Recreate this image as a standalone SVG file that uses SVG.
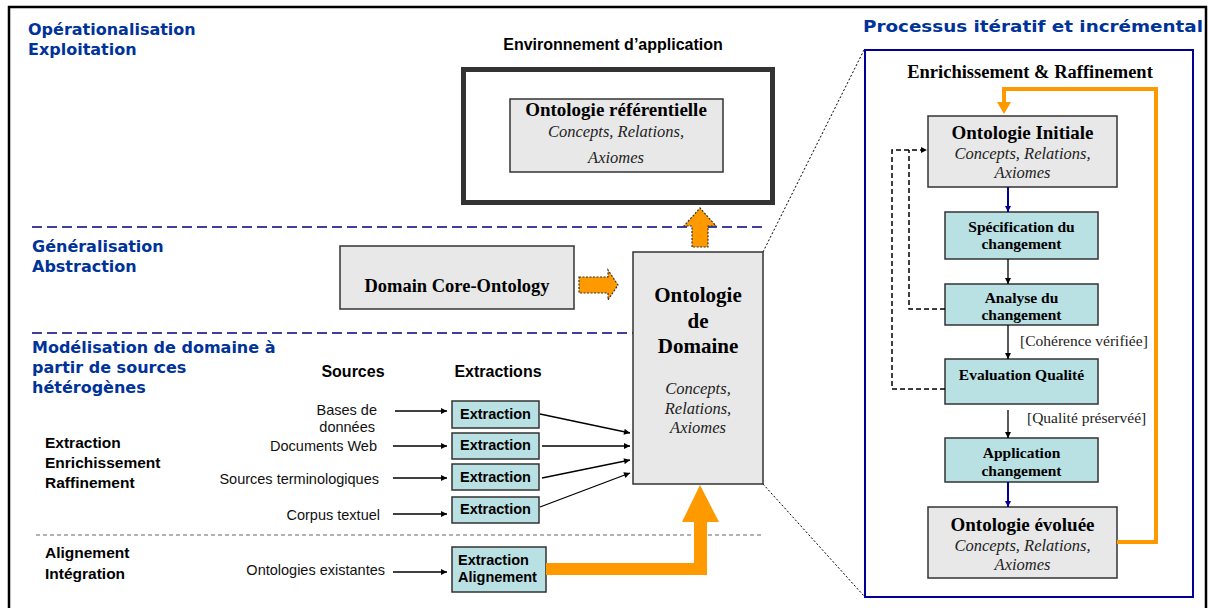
<svg xmlns="http://www.w3.org/2000/svg" width="1208" height="608" viewBox="0 0 1208 608">
<defs>
<style>
.hd{font-family:"DejaVu Sans",Verdana,sans-serif;font-weight:bold;fill:#003399;font-size:16px}
.sb{font-family:"Liberation Sans",Arial,sans-serif;font-weight:bold;fill:#000}
.sr{font-family:"Liberation Sans",Arial,sans-serif;fill:#111;font-size:14.5px}
.tb{font-family:"Liberation Serif","Times New Roman",serif;font-weight:bold;fill:#000}
.ti{font-family:"Liberation Serif","Times New Roman",serif;font-style:italic;fill:#222;font-size:16.5px}
.tr{font-family:"Liberation Serif","Times New Roman",serif;fill:#222;font-size:15.5px}
.gbox{fill:#e8e8e8;stroke:#333;stroke-width:1.5}
.tbox{fill:#b9e0e3;stroke:#333;stroke-width:1.5}
.thin{stroke:#000;stroke-width:1.3;fill:none}
.nav{stroke:#000099;stroke-width:2;fill:none}
.fb{stroke:#000;stroke-width:1.5;fill:none;stroke-dasharray:5,3}
.dot{stroke:#000;stroke-width:1;fill:none;stroke-dasharray:2,2}
.navdash{stroke:#000080;stroke-width:1.5;stroke-dasharray:10,5;fill:none}
.gdash{stroke:#999;stroke-width:1.3;stroke-dasharray:4,3;fill:none}
.org{fill:#ff9900}
.orgd{fill:#ff9900;stroke:#333;stroke-width:1.2;stroke-dasharray:2,1.5}
</style>
<marker id="ah" viewBox="0 0 10 10" refX="10" refY="5" markerWidth="7" markerHeight="6" markerUnits="userSpaceOnUse" orient="auto"><path d="M0,0L10,5L0,10z" fill="#000"/></marker>
<marker id="ahn" viewBox="0 0 10 10" refX="10" refY="5" markerWidth="7" markerHeight="6" markerUnits="userSpaceOnUse" orient="auto"><path d="M0,0L10,5L0,10z" fill="#000099"/></marker>
</defs>
<rect x="0" y="0" width="1208" height="608" fill="#fff"/>
<rect x="9" y="7" width="1197" height="650" fill="none" stroke="#000" stroke-width="2.5"/>

<!-- section labels -->
<g id="labels">
<text class="hd" x="28" y="35">Opérationalisation</text>
<text class="hd" x="28" y="55">Exploitation</text>
<text class="hd" x="32" y="252">Généralisation</text>
<text class="hd" x="32" y="272">Abstraction</text>
<text class="hd" x="32" y="353">Modélisation de domaine à</text>
<text class="hd" x="32" y="373">partir de sources</text>
<text class="hd" x="32" y="393">hétérogènes</text>
<text class="sb" x="45" y="448" font-size="15.5">Extraction</text>
<text class="sb" x="45" y="468" font-size="15.5">Enrichissement</text>
<text class="sb" x="45" y="488" font-size="15.5">Raffinement</text>
<text class="sb" x="45" y="558" font-size="15.5">Alignement</text>
<text class="sb" x="45" y="579" font-size="15.5">Intégration</text>
<text class="sb" x="613" y="50" font-size="16" text-anchor="middle">Environnement d’application</text>
<text class="sb" x="353" y="377" font-size="16" text-anchor="middle">Sources</text>
<text class="sb" x="498" y="377" font-size="16" text-anchor="middle">Extractions</text>
<text class="hd" x="863" y="32" font-size="19" textLength="340" lengthAdjust="spacingAndGlyphs">Processus itératif et incrémental</text>
</g>

<!-- separators -->
<g id="separators">
<line class="navdash" x1="32" y1="227" x2="765" y2="227"/>
<line class="navdash" x1="32" y1="333" x2="633" y2="333"/>
<line class="gdash" x1="36" y1="535" x2="763" y2="535"/>
<line class="dot" x1="763" y1="252" x2="864" y2="50"/>
<line class="dot" x1="763" y1="484" x2="864" y2="596"/>
</g>

<g id="env">
<rect x="463.5" y="69.5" width="309" height="133" fill="#fff" stroke="#333" stroke-width="5"/>
</g>
<g id="ref">
<rect class="gbox" x="510" y="99" width="213" height="73"/>
<text class="tb" x="616" y="116" font-size="19" text-anchor="middle">Ontologie référentielle</text>
<text class="ti" x="616" y="137" text-anchor="middle">Concepts, Relations,</text>
<text class="ti" x="616" y="163" text-anchor="middle">Axiomes</text>
</g>
<g id="core">
<rect class="gbox" x="340" y="246" width="234" height="63"/>
<text class="tb" x="457" y="292" font-size="18.5" text-anchor="middle">Domain Core-Ontology</text>
</g>
<g id="domaine">
<rect class="gbox" x="633" y="252" width="130" height="232"/>
<text class="tb" x="698" y="302" font-size="21" text-anchor="middle">Ontologie</text>
<text class="tb" x="698" y="328" font-size="21" text-anchor="middle">de</text>
<text class="tb" x="698" y="353" font-size="21" text-anchor="middle">Domaine</text>
<text class="ti" x="698" y="394" text-anchor="middle">Concepts,</text>
<text class="ti" x="698" y="414" text-anchor="middle">Relations,</text>
<text class="ti" x="698" y="433" text-anchor="middle">Axiomes</text>
</g>

<!-- sources -->
<g id="sources">
<text class="sr" x="377" y="415" text-anchor="end">Bases de</text>
<text class="sr" x="375" y="432" text-anchor="end">données</text>
<text class="sr" x="377" y="451" text-anchor="end">Documents Web</text>
<text class="sr" x="379" y="484" text-anchor="end">Sources terminologiques</text>
<text class="sr" x="380" y="520" text-anchor="end">Corpus textuel</text>
<text class="sr" x="385" y="575" text-anchor="end">Ontologies existantes</text>
</g>

<g id="ext1"><rect class="tbox" x="452" y="401" width="87" height="27"/><text class="sb" x="495.5" y="419" font-size="14.5" text-anchor="middle">Extraction</text></g>
<g id="ext2"><rect class="tbox" x="452" y="433" width="87" height="26"/><text class="sb" x="495.5" y="450" font-size="14.5" text-anchor="middle">Extraction</text></g>
<g id="ext3"><rect class="tbox" x="452" y="464" width="87" height="26"/><text class="sb" x="495.5" y="482" font-size="14.5" text-anchor="middle">Extraction</text></g>
<g id="ext4"><rect class="tbox" x="452" y="497" width="87" height="26"/><text class="sb" x="495.5" y="514" font-size="14.5" text-anchor="middle">Extraction</text></g>
<g id="ext5"><rect class="tbox" x="452" y="547" width="94" height="45"/>
<text class="sb" x="458" y="565" font-size="14.5">Extraction</text>
<text class="sb" x="458" y="582" font-size="14.5">Alignement</text></g>

<!-- right process -->
<g id="process">
<rect x="865" y="50" width="328" height="547" fill="none" stroke="#000099" stroke-width="2"/>
<text class="tb" x="1030" y="78" font-size="18.5" text-anchor="middle">Enrichissement &amp; Raffinement</text>
</g>
<g id="oinit">
<rect class="gbox" x="928" y="116" width="189" height="71"/>
<text class="tb" x="1022.5" y="139" font-size="19" text-anchor="middle">Ontologie Initiale</text>
<text class="ti" x="1022.5" y="159" text-anchor="middle">Concepts, Relations,</text>
<text class="ti" x="1022.5" y="178" text-anchor="middle">Axiomes</text>
</g>
<g id="spec">
<rect class="tbox" x="945" y="212" width="153" height="47"/>
<text class="tb" x="1021.5" y="232" font-size="15.5" text-anchor="middle">Spécification du</text>
<text class="tb" x="1021.5" y="249" font-size="15.5" text-anchor="middle">changement</text>
</g>
<g id="analyse">
<rect class="tbox" x="945" y="284" width="153" height="41"/>
<text class="tb" x="1021.5" y="303" font-size="15.5" text-anchor="middle">Analyse du</text>
<text class="tb" x="1021.5" y="320" font-size="15.5" text-anchor="middle">changement</text>
</g>
<g id="eval">
<rect class="tbox" x="945" y="359" width="153" height="45"/>
<text class="tb" x="1021.5" y="380" font-size="15.5" text-anchor="middle">Evaluation Qualité</text>
</g>
<g id="appl">
<rect class="tbox" x="945" y="438" width="153" height="44"/>
<text class="tb" x="1021.5" y="458" font-size="15.5" text-anchor="middle">Application</text>
<text class="tb" x="1021.5" y="476" font-size="15.5" text-anchor="middle">changement</text>
</g>
<g id="oevol">
<rect class="gbox" x="928" y="507" width="189" height="71"/>
<text class="tb" x="1022.5" y="531" font-size="19" text-anchor="middle">Ontologie évoluée</text>
<text class="ti" x="1022.5" y="551" text-anchor="middle">Concepts, Relations,</text>
<text class="ti" x="1022.5" y="570" text-anchor="middle">Axiomes</text>
</g>

<!-- connectors -->
<g id="connectors">
<line class="thin" x1="395" y1="411" x2="447" y2="411" marker-end="url(#ah)"/>
<line class="thin" x1="393" y1="446" x2="447" y2="446" marker-end="url(#ah)"/>
<line class="thin" x1="393" y1="478" x2="447" y2="478" marker-end="url(#ah)"/>
<line class="thin" x1="393" y1="514" x2="447" y2="514" marker-end="url(#ah)"/>
<line class="thin" x1="393" y1="572" x2="447" y2="572" marker-end="url(#ah)"/>
<line class="thin" x1="540" y1="414" x2="630" y2="433" marker-end="url(#ah)"/>
<line class="thin" x1="542" y1="446" x2="630" y2="446" marker-end="url(#ah)"/>
<line class="thin" x1="542" y1="478" x2="630" y2="460" marker-end="url(#ah)"/>
<line class="thin" x1="540" y1="507" x2="630" y2="473" marker-end="url(#ah)"/>
<path class="org" d="M546,563H694V522H682L700,485L719,522H707V575H546Z"/>
<path class="orgd" d="M579,277H608V270L618,285L608,300V293H579Z"/>
<path class="orgd" d="M692,247V226H684L700,208L716,226H708V247Z"/>
<path d="M1117,542H1156V89H1004V104" fill="none" stroke="#ff9900" stroke-width="4"/>
<path class="org" d="M997,102H1011L1004,114Z"/>
<line class="nav" x1="1008" y1="187" x2="1008" y2="212" marker-end="url(#ahn)"/>
<line class="thin" x1="1008" y1="259" x2="1008" y2="284" marker-end="url(#ah)"/>
<line class="thin" x1="1008" y1="325" x2="1008" y2="359" marker-end="url(#ah)"/>
<line class="thin" x1="1008" y1="410" x2="1008" y2="438" marker-end="url(#ah)"/>
<line class="nav" x1="1008" y1="482" x2="1008" y2="507" marker-end="url(#ahn)"/>
<path class="fb" d="M945,389H892V150H927" marker-end="url(#ah)"/>
<path class="fb" d="M945,309H909V150"/>
<text class="tr" x="1020" y="346">[Cohérence vérifiée]</text>
<text class="tr" x="1027" y="423">[Qualité préservéé]</text>
</g>
</svg>
